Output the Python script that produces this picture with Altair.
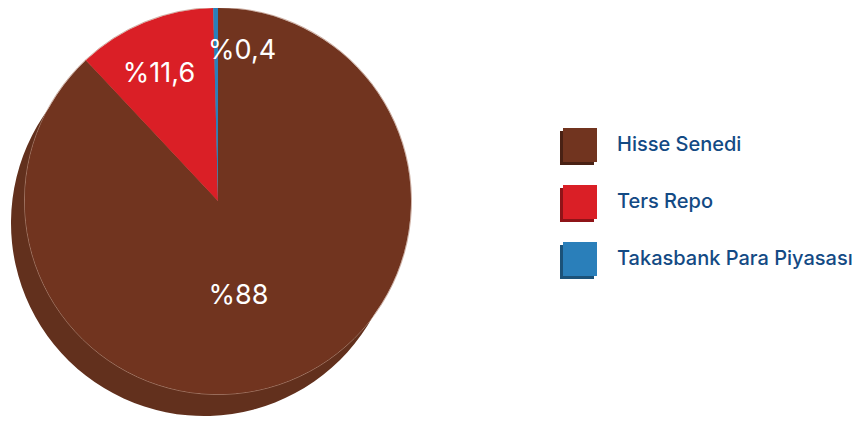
import altair as alt
import pandas as pd

cats = ["Hisse Senedi", "Ters Repo", "Takasbank Para Piyasası"]
values = [88, 11.6, 0.4]
labels = ["%88", "%11,6", "%0,4"]
colors = ["#71341f", "#da1f26", "#2a7fba"]

df = pd.DataFrame({"cat": cats, "value": values, "label": labels})

CX, CY, R = 210, 193, 193
SX, SY = 196, 215
FONT = "Inter"

base = (
    alt.Chart(df)
    .transform_window(i="row_number()")
    .transform_stack(stack="value", groupby=[], as_=["v0", "v1"], sort=[alt.SortField("i")])
    .transform_calculate(mid="(datum.v0 + datum.v1) / 2")
)

theta = alt.Theta("v0:Q", scale=alt.Scale(domain=[0, 100]))
color = alt.Color("cat:N", scale=alt.Scale(domain=cats, range=colors), legend=None)

shadow = base.mark_arc(radius=R, color="#62301d").encode(
    theta=theta, theta2="v1", x=alt.value(SX), y=alt.value(SY)
)
rim = base.mark_arc(radius=R + 0.5, filled=False, stroke="#b98e7c", strokeWidth=0.7).encode(
    theta=theta, theta2="v1", x=alt.value(CX), y=alt.value(CY)
)
top = base.mark_arc(radius=R).encode(
    theta=theta, theta2="v1", color=color, x=alt.value(CX), y=alt.value(CY)
)

def lab(cat, radius, dx, dy=0):
    return (
        base.transform_filter(alt.datum.cat == cat)
        .mark_text(radius=radius, dx=dx, dy=dy, font=FONT, fontSize=27, fontWeight=400,
                   color="white", baseline="middle", align="center")
        .encode(theta=alt.Theta("mid:Q", scale=alt.Scale(domain=[0, 100])),
                text="label:N", x=alt.value(CX), y=alt.value(CY))
    )

l1 = lab("Hisse Senedi", 102, -17)
l2 = lab("Ters Repo", 137, -7)
l3 = lab("Takasbank Para Piyasası", 150, 26)

ysc = alt.Y("cat:N", scale=alt.Scale(type="point", domain=cats, range=[137, 251], padding=0), axis=None)

lg_back = alt.Chart(df).mark_square(size=1156, opacity=1).encode(
    x=alt.value(569), y=ysc, yOffset=alt.value(3), color=color
)
lg_dark = alt.Chart(df).mark_square(size=1156, color="black", opacity=0.35).encode(
    x=alt.value(569), y=ysc, yOffset=alt.value(3)
)
lg_front = alt.Chart(df).mark_square(size=1156, opacity=1).encode(
    x=alt.value(572), y=ysc, color=color
)
lg_text = alt.Chart(df).mark_text(align="left", baseline="middle", font=FONT,
                                  fontSize=20, fontWeight=500, color="#134a84").encode(
    x=alt.value(609), y=ysc, text="cat:N"
)

chart = (
    alt.layer(shadow, rim, top, l1, l2, l3, lg_back, lg_dark, lg_front, lg_text)
    .properties(width=850, height=409, padding=0, autosize=alt.AutoSizeParams(type="none"))
    .configure_view(stroke=None)
)

chart.save("out.html", embed_options={"renderer": "svg", "actions": False})
